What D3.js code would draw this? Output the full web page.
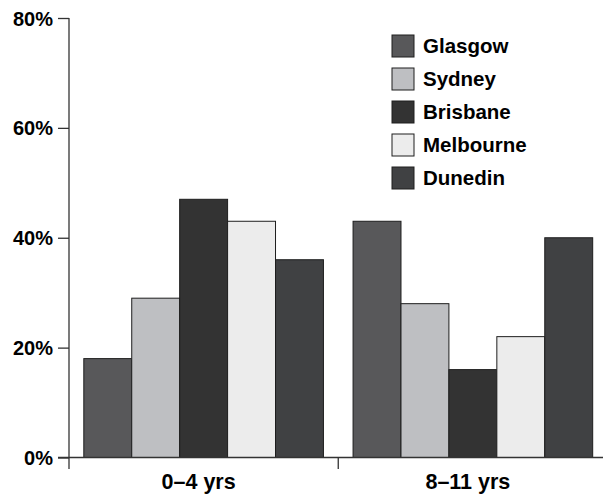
<!DOCTYPE html>
<html><head><meta charset="utf-8">
<script src="https://cdn.jsdelivr.net/npm/d3@7"></script>
<style>body{margin:0;background:#fff}svg{display:block}</style>
</head><body>
<script>
const groups = ["0–4 yrs", "8–11 yrs"];
const cities = ["Glasgow", "Sydney", "Brisbane", "Melbourne", "Dunedin"];
const glasgow = [18, 43];
const sydney = [29, 28];
const brisbane = [47, 16];
const melbourne = [43, 22];
const dunedin = [36, 40];
const yTicks = [0, 20, 40, 60, 80];
const colors = ["#58585a", "#bebfc2", "#333333", "#ececec", "#404143"];

const seriesVals = [glasgow, sydney, brisbane, melbourne, dunedin];
const W = 603, H = 497;
const svg = d3.select("body").append("svg").attr("width", W).attr("height", H);
const font = "'Liberation Sans', Arial, Helvetica, sans-serif";

const y = d3.scaleLinear().domain([0, 80]).range([457.5, 18]);
const x0 = d3.scaleBand().domain(groups).range([69, 607.5]).paddingInner(0.11).paddingOuter(0.055);
const x1 = d3.scaleBand().domain(cities).range([0, x0.bandwidth()]);

// bars
groups.forEach((g, gi) => {
  cities.forEach((c, ci) => {
    const v = seriesVals[ci][gi];
    svg.append("rect")
      .attr("x", x0(g) + x1(c))
      .attr("y", y(v))
      .attr("width", x1.bandwidth())
      .attr("height", y(0) - y(v))
      .attr("fill", colors[ci])
      .attr("stroke", "#1e1e1e")
      .attr("stroke-width", 1);
  });
});

// y axis
const yAxis = d3.axisLeft(y).tickValues(yTicks).tickFormat(d => d + "%").tickSize(11).tickPadding(5).tickSizeOuter(0);
const ya = svg.append("g").attr("transform", "translate(69,0)").call(yAxis);
ya.select(".domain").remove();
ya.selectAll(".tick line").attr("stroke", "#333").attr("stroke-width", 1.3);
ya.selectAll("text").attr("font-family", font).attr("font-weight", "bold").attr("font-size", 20).attr("fill", "#000").attr("dy", "0.35em");
svg.append("line").attr("x1", 69).attr("x2", 69).attr("y1", 18).attr("y2", 469).attr("stroke", "#333").attr("stroke-width", 1.3);

// x axis
svg.append("line").attr("x1", 58).attr("x2", 603).attr("y1", y(0)).attr("y2", y(0)).attr("stroke", "#333").attr("stroke-width", 1.3);
const mid = x0(groups[1]) - x0.step() * x0.paddingInner() / 2;
svg.append("line").attr("x1", mid).attr("x2", mid).attr("y1", y(0)).attr("y2", 469).attr("stroke", "#333").attr("stroke-width", 1.3);
groups.forEach(g => {
  svg.append("text").attr("x", x0(g) + x0.bandwidth() / 2 - 5).attr("y", 489)
    .attr("text-anchor", "middle").attr("font-family", font).attr("font-weight", "bold").attr("font-size", 21.5).text(g);
});

// legend
cities.forEach((c, i) => {
  const ly = 35 + i * 33;
  svg.append("rect").attr("x", 392).attr("y", ly).attr("width", 22).attr("height", 22)
    .attr("fill", colors[i]).attr("stroke", "#1e1e1e").attr("stroke-width", 1);
  svg.append("text").attr("x", 423).attr("y", ly + 18).attr("font-family", font)
    .attr("font-weight", "bold").attr("font-size", 20.5).text(c);
});
</script>
</body></html>
